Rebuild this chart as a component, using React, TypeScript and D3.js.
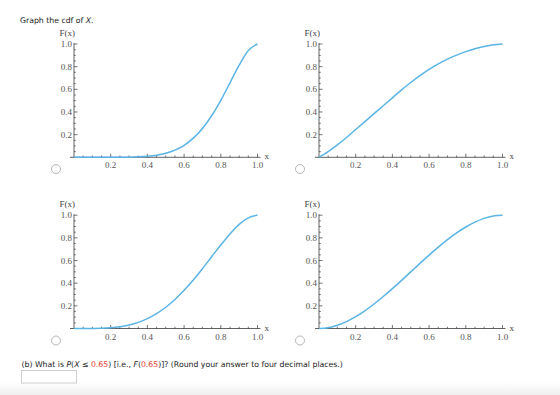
import React from "react";
import * as d3 from "d3";

const xValues = [0, 0.05, 0.1, 0.15, 0.2, 0.25, 0.3, 0.35, 0.4, 0.45, 0.5, 0.55, 0.6, 0.65, 0.7, 0.75, 0.8, 0.85, 0.9, 0.95, 1.0];

// panel values (top-left, top-right, bottom-left, bottom-right)
const cdfTopLeft = [0, 0, 0, 0, 0, 0.0005, 0.0015, 0.004, 0.009, 0.018, 0.035, 0.063, 0.106, 0.169, 0.255, 0.367, 0.503, 0.657, 0.813, 0.943, 1];
const cdfTopRight = [0, 0.05, 0.11, 0.175, 0.245, 0.315, 0.385, 0.455, 0.525, 0.595, 0.66, 0.72, 0.775, 0.825, 0.867, 0.902, 0.933, 0.958, 0.978, 0.993, 1];
const cdfBottomLeft = [0, 0, 0.0005, 0.0022, 0.0067, 0.0156, 0.0308, 0.054, 0.087, 0.131, 0.1875, 0.256, 0.337, 0.428, 0.528, 0.633, 0.737, 0.835, 0.919, 0.977, 1];
const cdfBottomRight = [0, 0.007, 0.028, 0.061, 0.104, 0.156, 0.216, 0.282, 0.352, 0.425, 0.5, 0.575, 0.648, 0.718, 0.784, 0.844, 0.896, 0.939, 0.972, 0.993, 1];

const xTicks = [0.2, 0.4, 0.6, 0.8, 1.0];
const yTicks = [0.2, 0.4, 0.6, 0.8, 1.0];
const minorTicks = d3.range(0.05, 1.001, 0.05);

const panels = [
  {left: 74, base: 157.3, radio: [56, 169], values: cdfTopLeft},
  {left: 319, base: 157.3, radio: [300, 169], values: cdfTopRight},
  {left: 74, base: 328.5, radio: [56, 340.5], values: cdfBottomLeft},
  {left: 319, base: 328.5, radio: [300, 340.5], values: cdfBottomRight},
];

const plotW = 183.5;
const plotH = 113.3;
const axisColor = "#3a3a3a";
const labelFont = "'Liberation Serif', 'DejaVu Serif', serif";
const textFont = "'DejaVu Sans', Verdana, sans-serif";

function CdfPanel({left, base, radio, values}) {
  const x = d3.scaleLinear().domain([0, 1]).range([left, left + plotW]);
  const y = d3.scaleLinear().domain([0, 1]).range([base, base - plotH]);
  const line = d3.line<number>()
    .x((d, i) => x(xValues[i]))
    .y(d => y(d))
    .curve(d3.curveMonotoneX);

  return (
    <g>
      {/* axes */}
      <line x1={x(0) - 4} x2={x(1) + 3} y1={y(0)} y2={y(0)} stroke={axisColor} strokeWidth={0.8} />
      <line x1={x(0)} x2={x(0)} y1={y(0)} y2={y(1) - 1} stroke={axisColor} strokeWidth={0.8} />
      {minorTicks.map((t, i) => {
        const major = Math.abs(t * 5 - Math.round(t * 5)) < 1e-6;
        const len = major ? 3.5 : 1.8;
        return (
          <g key={i}>
            <line x1={x(t)} x2={x(t)} y1={y(0)} y2={y(0) - len} stroke={axisColor} strokeWidth={0.7} />
            <line x1={x(0)} x2={x(0) + len} y1={y(t)} y2={y(t)} stroke={axisColor} strokeWidth={0.7} />
          </g>
        );
      })}
      {xTicks.map(t => (
        <text key={t} x={x(t)} y={y(0) + 11} textAnchor="middle" fontFamily={labelFont} fontSize={9} fill="#555">
          {d3.format(".1f")(t)}
        </text>
      ))}
      {yTicks.map(t => (
        <text key={t} x={x(0) - 2} y={y(t) + 3} textAnchor="end" fontFamily={labelFont} fontSize={9} fill="#555">
          {d3.format(".1f")(t)}
        </text>
      ))}
      <text x={x(0) + 1} y={y(1) - 8} textAnchor="end" fontFamily={labelFont} fontSize={9} fill="#444">F(x)</text>
      <text x={x(1) + 7} y={y(0) + 2} fontFamily={labelFont} fontSize={9} fill="#444">x</text>
      <path d={line(values) || ""} fill="none" stroke="#5ab4e6" strokeWidth={1.5} />
      <circle cx={radio[0]} cy={radio[1]} r={4.5} fill="#fff" stroke="#b5b5b5" strokeWidth={1} />
    </g>
  );
}

export default function App() {
  return (
    <div style={{position: "absolute", left: 0, top: 0}}>
      <svg width={560} height={395} style={{display: "block"}}>
        <defs>
          <linearGradient id="foot" x1="0" y1="0" x2="0" y2="1">
            <stop offset="0" stopColor="#ffffff" />
            <stop offset="1" stopColor="#efefef" />
          </linearGradient>
        </defs>
        <rect x={0} y={0} width={560} height={395} fill="#fff" />
        <rect x={0} y={382} width={560} height={13} fill="url(#foot)" />
        <text x={20} y={23} fontFamily={textFont} fontSize={7.75} fill="#222">
          Graph the cdf of <tspan fontStyle="italic">X</tspan>.
        </text>
        {panels.map((p, i) => <CdfPanel key={i} {...p} />)}
        <text x={21.5} y={366.5} fontFamily={textFont} fontSize={7.75} fill="#222">
          (b) What is <tspan fontStyle="italic">P</tspan>(<tspan fontStyle="italic">X</tspan> ≤ <tspan fill="#e8382d">0.65</tspan>) [i.e., <tspan fontStyle="italic">F</tspan>(<tspan fill="#e8382d">0.65</tspan>)]? (Round your answer to four decimal places.)
        </text>
        <rect x={21.5} y={370.5} width={55} height={12.5} fill="#fff" stroke="#cfcfcf" strokeWidth={1} />
      </svg>
    </div>
  );
}
